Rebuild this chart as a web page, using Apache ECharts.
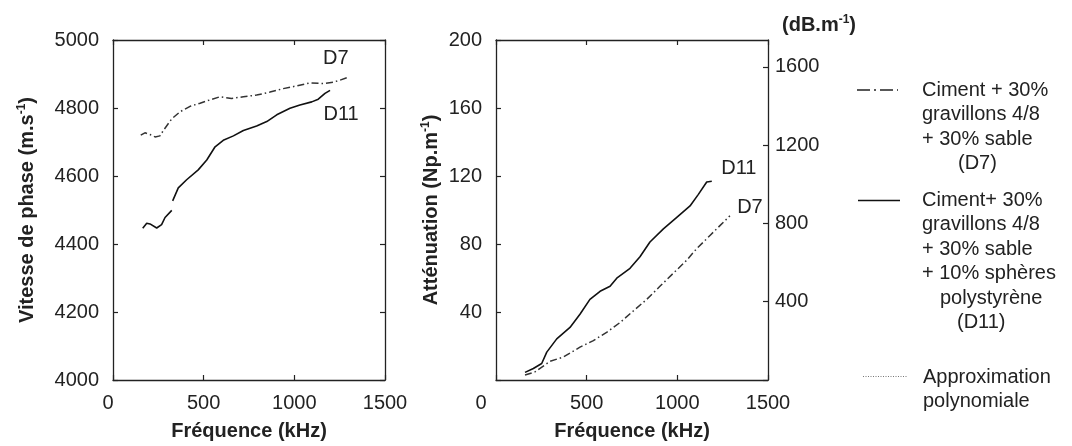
<!DOCTYPE html>
<html>
<head>
<meta charset="utf-8">
<script src="https://cdn.jsdelivr.net/npm/echarts@6/dist/echarts.min.js"></script>
<style>
html,body{margin:0;padding:0;background:#fff;}
#chart{width:1072px;height:446px;}
</style>
</head>
<body>
<div id="chart"></div>
<script>
// ---- Data ----
const xTicks = [0, 500, 1000, 1500];
const velTicks = [4000, 4200, 4400, 4600, 4800, 5000];
const attTicks = [0, 40, 80, 120, 160, 200];
const dbTicks = [400, 800, 1200, 1600];

// Left panel: phase velocity (m/s) vs frequency (kHz)
const velD7Freq = [153,176,204,232,259,278,324,370,425,480,535,590,654,719,792,866,939,1013,1087,1160,1215,1252,1289];
const velD7 = [4720,4727,4722,4715,4718,4734,4768,4789,4805,4814,4824,4833,4828,4833,4838,4847,4857,4865,4874,4872,4876,4882,4889];
const velD11Freq = [164,186,204,241,268,287,324,326,329,360,406,470,517,563,608,664,719,792,848,903,976,1031,1096,1132,1169,1197];
const velD11 = [4446,4461,4459,4447,4457,4478,4499,null,4527,4565,4589,4618,4647,4686,4705,4718,4734,4747,4760,4780,4799,4809,4818,4826,4843,4852];

// Right panel: attenuation (Np/m) vs frequency (kHz)
const attD11Freq = [160,206,252,280,335,408,463,518,574,629,666,739,794,849,923,997,1070,1116,1162,1190];
const attD11 = [4.5,6.8,9.7,16.4,24.2,30.9,38.7,47.4,52.2,55.1,59.9,65.7,72.5,81.2,88.9,95.7,102.4,109.2,116.5,116.9];
const attD7Freq = [160,215,298,371,463,537,610,684,757,831,904,978,1052,1107,1180,1235,1290];
const attD7 = [2.9,4.8,11,13.5,19.3,23.2,28,33.8,40.6,47.4,55.1,62.8,70.5,77.3,85,90.8,96.6];

const NP_TO_DB = 8.686;

// ---- Styling ----
const FONT = "'Liberation Sans', Arial, sans-serif";
const TXT = '#222';
const AX = '#222';
const FS = 20;

function pairs(xs, ys) {
  return xs.map((x, i) => ys[i] === null ? [x, '-'] : [x, ys[i]]);
}
function endLabel(xs, ys, text, off) {
  const i = xs.length - 1;
  return {
    silent: true, symbol: 'circle', symbolSize: 1,
    itemStyle: {color: 'rgba(0,0,0,0)'},
    label: {show: true, position: 'inside', formatter: text, offset: off,
            fontSize: FS, fontFamily: FONT, color: TXT},
    data: [{coord: [xs[i], ys[i]]}]
  };
}

const axisLine = {show: true, onZero: false, lineStyle: {color: AX, width: 1.3}};
const tickIn = {show: true, inside: true, length: 5, lineStyle: {color: AX, width: 1.2}};
const lbl = {fontSize: FS, fontFamily: FONT, color: TXT};
const nameStyle = {fontSize: FS, fontFamily: FONT, fontWeight: 'bold', color: TXT,
  rich: {sup: {fontSize: 12, fontFamily: FONT, fontWeight: 'bold', color: TXT, verticalAlign: 'top', padding: [0,0,10,0]}}};

function xBottom(gi, zeroPad) {
  return {
    type: 'value', gridIndex: gi, position: 'bottom',
    min: xTicks[0], max: xTicks[xTicks.length-1], interval: xTicks[1]-xTicks[0],
    axisLine, axisTick: tickIn, splitLine: {show: false},
    axisLabel: Object.assign({}, lbl, {margin: 13,
      formatter: v => v === 0 ? '{z|0}' : String(v),
      rich: {z: Object.assign({}, lbl, {padding: [0, zeroPad, 0, 0]})}}),
    name: 'Fréquence (kHz)', nameLocation: 'middle', nameGap: 41,
    nameTextStyle: nameStyle
  };
}
function xTop(gi) {
  return {
    type: 'value', gridIndex: gi, position: 'top',
    min: xTicks[0], max: xTicks[xTicks.length-1], interval: xTicks[1]-xTicks[0],
    axisLine, axisTick: tickIn, axisLabel: {show: false}, splitLine: {show: false}
  };
}

const option = {
  animation: false,
  backgroundColor: '#fff',
  grid: [
    {left: 113, top: 40, width: 272, height: 345},
    {left: 496, top: 40, width: 272, height: 345}
  ],
  xAxis: [xBottom(0, 10), xTop(0), xBottom(1, 30), xTop(1)],
  yAxis: [
    { // 0: velocity
      type: 'value', gridIndex: 0, position: 'left',
      min: velTicks[0], max: velTicks[velTicks.length-1], interval: velTicks[1]-velTicks[0],
      axisLine, axisTick: tickIn, splitLine: {show: false},
      axisLabel: Object.assign({}, lbl, {margin: 14, formatter: v => String(v)}),
      name: 'Vitesse de phase (m.s{sup|-1})', nameLocation: 'middle', nameGap: 75,
      nameTextStyle: nameStyle
    },
    { // 1: mirror right of left panel
      type: 'value', gridIndex: 0, position: 'right',
      min: velTicks[0], max: velTicks[velTicks.length-1], interval: velTicks[1]-velTicks[0],
      axisLine, axisTick: tickIn, axisLabel: {show: false}, splitLine: {show: false}
    },
    { // 2: attenuation Np/m
      type: 'value', gridIndex: 1, position: 'left',
      min: attTicks[0], max: attTicks[attTicks.length-1], interval: attTicks[1]-attTicks[0],
      axisLine, axisTick: tickIn, splitLine: {show: false},
      axisLabel: Object.assign({}, lbl, {margin: 14, formatter: v => v === 0 ? '' : String(v)}),
      name: 'Atténuation (Np.m{sup|-1})', nameLocation: 'middle', nameGap: 54,
      nameTextStyle: nameStyle
    },
    { // 3: attenuation dB/m
      type: 'value', gridIndex: 1, position: 'right',
      min: 0, max: attTicks[attTicks.length-1] * NP_TO_DB, interval: dbTicks[1]-dbTicks[0],
      axisLine, axisTick: tickIn, splitLine: {show: false},
      axisLabel: Object.assign({}, lbl, {margin: 7, showMaxLabel: false,
        formatter: v => dbTicks.indexOf(Math.round(v)) >= 0 && Math.abs(v - Math.round(v)) < 1e-6 ? String(v) : ''}),
      name: '(dB.m{sup|-1})', nameLocation: 'end', nameGap: 4,
      nameTextStyle: Object.assign({}, nameStyle, {align: 'left', padding: [0, 0, 0, 14]})
    }
  ],
  series: [
    {
      name: 'D7 vitesse', type: 'line', xAxisIndex: 0, yAxisIndex: 0,
      showSymbol: false, symbol: 'none', silent: true,
      lineStyle: {color: '#333', width: 1.5, type: [7, 3, 1.5, 3]},
      data: pairs(velD7Freq, velD7),
      markPoint: endLabel(velD7Freq, velD7, 'D7', [-11, -19])
    },
    {
      name: 'D11 vitesse', type: 'line', xAxisIndex: 0, yAxisIndex: 0,
      showSymbol: false, symbol: 'none', silent: true, connectNulls: false,
      lineStyle: {color: '#111', width: 1.6},
      data: pairs(velD11Freq, velD11),
      markPoint: endLabel(velD11Freq, velD11, 'D11', [11, 24])
    },
    {
      name: 'D11 atténuation', type: 'line', xAxisIndex: 2, yAxisIndex: 2,
      showSymbol: false, symbol: 'none', silent: true,
      lineStyle: {color: '#111', width: 1.6},
      data: pairs(attD11Freq, attD11),
      markPoint: endLabel(attD11Freq, attD11, 'D11', [27, -13])
    },
    {
      name: 'D7 atténuation', type: 'line', xAxisIndex: 2, yAxisIndex: 2,
      showSymbol: false, symbol: 'none', silent: true,
      lineStyle: {color: '#333', width: 1.5, type: [7, 3, 1.5, 3]},
      data: pairs(attD7Freq, attD7),
      markPoint: endLabel(attD7Freq, attD7, 'D7', [20, -8])
    }
  ],
  graphic: (function () {
    const els = [];
    function t(text, x, y) {
      els.push({type: 'text', silent: true, x: x, y: y,
        style: {text: text, fill: TXT, fontSize: FS, fontFamily: FONT, verticalAlign: 'middle', align: 'left'}});
    }
    function l(x1, x2, y, dash, w, c) {
      els.push({type: 'line', silent: true,
        shape: {x1: x1, y1: y, x2: x2, y2: y},
        style: {stroke: c, lineWidth: w, lineDash: dash}});
    }
    // block 1
    l(857, 898, 90, [13, 4, 2, 4], 1.6, '#222');
    t('Ciment + 30%', 922, 90);
    t('gravillons 4/8', 922, 114.5);
    t('+ 30% sable', 922, 139);
    t('(D7)', 958, 163.5);
    // block 2
    l(858, 900, 200.5, null, 1.6, '#111');
    t('Ciment+ 30%', 922, 200);
    t('gravillons 4/8', 922, 224.5);
    t('+ 30% sable', 922, 249);
    t('+ 10% sphères', 922, 273.5);
    t('polystyrène', 940, 298);
    t('(D11)', 957, 322.5);
    // block 3
    l(863, 907, 376.5, [1, 1.5], 1, '#777');
    t('Approximation', 923, 377);
    t('polynomiale', 923, 401);
    return els;
  })()
};

const chart = echarts.init(document.getElementById('chart'), null, {renderer: 'canvas'});
chart.setOption(option);
</script>
</body>
</html>
